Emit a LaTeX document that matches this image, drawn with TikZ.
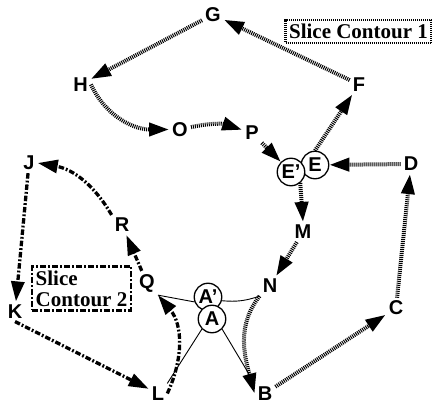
\documentclass[tikz,border=0pt]{standalone}
\usepackage{fontspec}
\setmainfont{Liberation Serif}
\setsansfont{Liberation Sans}
\usetikzlibrary{arrows.meta}
\begin{document}
\begin{tikzpicture}[x=1pt,y=1pt,
 lbl/.style={font=\sffamily\bfseries\fontsize{20}{20}\selectfont, inner sep=3pt},
 circ/.style={circle, draw, line width=1.3pt, fill=white, minimum size=27.5pt, inner sep=0pt, font=\sffamily\bfseries\fontsize{20}{20}\selectfont},
 tip/.style={-{Triangle[length=20pt,width=13pt]}},
 dotl/.style={tip, line width=4pt, dash pattern=on 1pt off 1pt},
 ddl/.style={tip, line width=3.3pt, dash pattern=on 5.5pt off 2pt on 1.8pt off 2pt},
 thinln/.style={line width=0.9pt},
 boxtxt/.style={font=\rmfamily\bfseries\fontsize{21}{21}\selectfont},
]
\useasboundingbox (0,0) rectangle (432,-404);
% labels
\node[lbl] (G) at (213,-14.5) {G};
\node[lbl] (H) at (80.5,-84.5) {H};
\node[lbl] (O) at (180,-129.5) {O};
\node[lbl] (P) at (252,-133) {P};
\node[lbl] (F) at (359,-84.5) {F};
\node[lbl] (D) at (411,-164) {D};
\node[lbl] (M) at (303,-232) {M};
\node[lbl] (N) at (270,-286) {N};
\node[lbl] (C) at (396,-308) {C};
\node[lbl] (B) at (265,-393.5) {B};
\node[lbl] (L) at (158,-393.5) {L};
\node[lbl] (K) at (15,-311.5) {K};
\node[lbl] (J) at (29,-163) {J};
\node[lbl] (R) at (122,-225) {R};
\node[lbl] (Q) at (147,-283) {Q};
% circles
\node[circ] (E) at (315,-165) {E};
\node[circ] (Ep) at (291,-172) {E'};
\node[circ] (Ap) at (208,-297) {A'};
\node[circ] (A) at (212,-319) {A};
% boxes
\node[draw, line width=2.6pt, dash pattern=on 1pt off 1pt, boxtxt, inner xsep=3.5pt, minimum height=23pt] (SC1) at (358.5,-31.5) {Slice Contour 1};
\node[draw, line width=2.8pt, dash pattern=on 6pt off 2pt on 2pt off 2pt, boxtxt, align=left, inner xsep=3.7pt, inner ysep=4pt] (SC2) at (81.5,-288.5) {Slice\\Contour 2};
% contour 1
\draw[dotl] (F) -- (G);
\draw[dotl] (G) -- (H);
\draw[dotl] (H.east) to[out=-65,in=180] (O.west);
\draw[dotl] (O) to[bend left=15] (P);
\draw[dotl] (P) -- (Ep);
\draw[dotl] (Ep.-50) -- (M.north);
\draw[dotl] (M) -- (N);
\draw[dotl] (N.south west) to[out=-128,in=105] (B.west);
\draw[dotl] (B) -- (C);
\draw[dotl] (C) -- (D);
\draw[dotl] (D) -- (E);
\draw[dotl] (E.north) -- (F);
% contour 2
\draw[ddl] (L.east) to[out=65,in=-50] (Q.south east);
\draw[ddl] (Q) -- (R);
\draw[ddl] (R.north west) to[out=120,in=-10] (J.east);
\draw[ddl] (J) -- (K);
\draw[ddl] (K.south) -- (L);
% thin lines
\draw[thinln] (Q.south east) -- (Ap.200);
\draw[thinln] (Ap.-15) to[bend right=12] (N.south west);
\draw[thinln] (A.225) -- (L.north east);
\draw[thinln] (A.-45) -- (B.north west);
\end{tikzpicture}
\end{document}
